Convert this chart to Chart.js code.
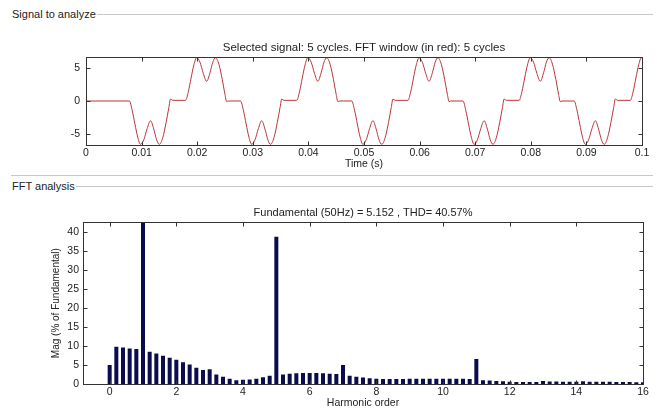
<!DOCTYPE html>
<html>
<head>
<meta charset="utf-8">
<script src="https://cdn.jsdelivr.net/npm/chart.js@4.4.1/dist/chart.umd.min.js"></script>
<style>
  body { margin: 0; background: #fff; width: 659px; height: 408px; overflow: hidden; position: relative; font-family: "Liberation Sans", Arial, sans-serif; }
  .group-title { position: absolute; left: 12px; right: 6px; height: 14px; display: flex; align-items: center; font-size: 11px; color: #222; white-space: nowrap; }
  .group-title::after { content: ""; flex: 1; border-top: 1px solid #c8c8c8; margin-left: 1px; }
  .sep { position: absolute; left: 11px; right: 6px; top: 175px; border-top: 1px solid #c8c8c8; }
  canvas { position: absolute; left: 0; }
</style>
</head>
<body>
<div class="group-title" style="top:7px">Signal to analyze</div>
<canvas id="signalChart" width="659" height="146" style="top:28px"></canvas>
<div class="sep"></div>
<div class="group-title" style="top:179px">FFT analysis</div>
<canvas id="fftChart" width="659" height="216" style="top:195px"></canvas>
<script>
// Signal to analyze: time in ms, amplitude
const timeMs = [
  0,
  7.8, 8.3, 8.8, 9.3, 9.8, 10.4, 11.0, 11.6, 12.2, 12.7, 13.2, 13.8, 14.4, 14.9, 15.2, 15.6,
  17.9, 18.4, 18.9, 19.4, 19.9, 20.5, 21.1, 21.7, 22.3, 22.8, 23.3, 23.9, 24.5, 25.0, 25.3, 25.6,
  27.8, 28.3, 28.8, 29.3, 29.8, 30.4, 31.0, 31.6, 32.2, 32.7, 33.2, 33.8, 34.4, 34.9, 35.2, 35.6,
  37.9, 38.4, 38.9, 39.4, 39.9, 40.5, 41.1, 41.7, 42.3, 42.8, 43.3, 43.9, 44.5, 45.0, 45.3, 45.6,
  47.8, 48.3, 48.8, 49.3, 49.8, 50.4, 51.0, 51.6, 52.2, 52.7, 53.2, 53.8, 54.4, 54.9, 55.2, 55.6,
  57.9, 58.4, 58.9, 59.4, 59.9, 60.5, 61.1, 61.7, 62.3, 62.8, 63.3, 63.9, 64.5, 65.0, 65.3, 65.6,
  67.8, 68.3, 68.8, 69.3, 69.8, 70.4, 71.0, 71.6, 72.2, 72.7, 73.2, 73.8, 74.4, 74.9, 75.2, 75.6,
  77.9, 78.4, 78.9, 79.4, 79.9, 80.5, 81.1, 81.7, 82.3, 82.8, 83.3, 83.9, 84.5, 85.0, 85.3, 85.6,
  87.8, 88.3, 88.8, 89.3, 89.8, 90.4, 91.0, 91.6, 92.2, 92.7, 93.2, 93.8, 94.4, 94.9, 95.2, 95.6,
  97.9, 98.4, 98.9, 99.4, 99.9, 100.0
];
const signal = [
  0,
  0, -1.4, -3.5, -5.5, -6.6, -5.9, -4.2, -3.0, -4.3, -5.9, -6.6, -5.6, -3.3, -1.0, 0.3, 0.1,
  0.1, 1.4, 3.5, 5.5, 6.6, 5.9, 4.2, 3.0, 4.3, 5.9, 6.6, 5.6, 3.3, 1.0, -0.1, 0,
  0, -1.4, -3.5, -5.5, -6.6, -5.9, -4.2, -3.0, -4.3, -5.9, -6.6, -5.6, -3.3, -1.0, 0.3, 0.1,
  0.1, 1.4, 3.5, 5.5, 6.6, 5.9, 4.2, 3.0, 4.3, 5.9, 6.6, 5.6, 3.3, 1.0, -0.1, 0,
  0, -1.4, -3.5, -5.5, -6.6, -5.9, -4.2, -3.0, -4.3, -5.9, -6.6, -5.6, -3.3, -1.0, 0.3, 0.1,
  0.1, 1.4, 3.5, 5.5, 6.6, 5.9, 4.2, 3.0, 4.3, 5.9, 6.6, 5.6, 3.3, 1.0, -0.1, 0,
  0, -1.4, -3.5, -5.5, -6.6, -5.9, -4.2, -3.0, -4.3, -5.9, -6.6, -5.6, -3.3, -1.0, 0.3, 0.1,
  0.1, 1.4, 3.5, 5.5, 6.6, 5.9, 4.2, 3.0, 4.3, 5.9, 6.6, 5.6, 3.3, 1.0, -0.1, 0,
  0, -1.4, -3.5, -5.5, -6.6, -5.9, -4.2, -3.0, -4.3, -5.9, -6.6, -5.6, -3.3, -1.0, 0.3, 0.1,
  0.1, 1.4, 3.5, 5.5, 6.6, 6.6
];
const timeTicks = [0, 0.01, 0.02, 0.03, 0.04, 0.05, 0.06, 0.07, 0.08, 0.09, 0.1];
const signalTicks = [-5, 0, 5];

// FFT analysis: harmonic order and magnitude (% of fundamental)
const harmonicOrder = [
  0, 0.2, 0.4, 0.6, 0.8, 1, 1.2, 1.4, 1.6, 1.8, 2, 2.2, 2.4, 2.6, 2.8,
  3, 3.2, 3.4, 3.6, 3.8, 4, 4.2, 4.4, 4.6, 4.8, 5, 5.2, 5.4, 5.6, 5.8,
  6, 6.2, 6.4, 6.6, 6.8, 7, 7.2, 7.4, 7.6, 7.8, 8, 8.2, 8.4, 8.6, 8.8,
  9, 9.2, 9.4, 9.6, 9.8, 10, 10.2, 10.4, 10.6, 10.8, 11, 11.2, 11.4, 11.6, 11.8,
  12, 12.2, 12.4, 12.6, 12.8, 13, 13.2, 13.4, 13.6, 13.8, 14, 14.2, 14.4, 14.6, 14.8,
  15, 15.2, 15.4, 15.6, 15.8, 16
];
const magnitude = [
  5.0, 9.8, 9.6, 9.3, 9.2, 100, 8.5, 8.0, 7.4, 6.9, 6.4, 5.7, 5.1, 4.3, 3.7,
  3.9, 2.5, 1.9, 1.4, 1.0, 1.1, 1.2, 1.4, 1.8, 2.2, 38.7, 2.5, 2.7, 2.8, 2.9,
  2.9, 2.9, 2.8, 2.7, 2.6, 5.0, 2.2, 1.9, 1.7, 1.5, 1.4, 1.3, 1.3, 1.3, 1.3,
  1.4, 1.4, 1.4, 1.4, 1.4, 1.4, 1.4, 1.4, 1.4, 1.3, 6.6, 1.0, 0.9, 0.8, 0.7,
  0.6, 0.55, 0.5, 0.5, 0.5, 0.8, 0.65, 0.65, 0.6, 0.6, 0.6, 0.7, 0.6, 0.6, 0.6,
  0.6, 0.55, 0.5, 0.5, 0.45, 0.45
];
const harmonicTicks = [0, 2, 4, 6, 8, 10, 12, 14, 16];
const magTicks = [0, 5, 10, 15, 20, 25, 30, 35, 40];

Chart.defaults.font.family = '"Liberation Sans", Arial, sans-serif';
Chart.defaults.font.size = 10.5;
Chart.defaults.color = '#222';

// MATLAB-style box around the axes with inward tick marks
const axesBox = {
  id: 'axesBox',
  afterDatasetsDraw(chart, args, opts) {
    const { ctx, chartArea: a, scales: { x, y } } = chart;
    const len = opts.tick || 4;
    const left = Math.round(a.left) + 0.5, right = Math.round(a.right) + 0.5;
    const top = Math.round(a.top) + 0.5, bottom = Math.round(a.bottom) + 0.5;
    ctx.save();
    ctx.strokeStyle = '#333';
    ctx.lineWidth = 1;
    ctx.beginPath();
    x.ticks.forEach(t => {
      const px = Math.round(x.getPixelForValue(t.value)) + 0.5;
      ctx.moveTo(px, bottom); ctx.lineTo(px, bottom - len);
      ctx.moveTo(px, top); ctx.lineTo(px, top + len);
    });
    y.ticks.forEach(t => {
      const py = Math.round(y.getPixelForValue(t.value)) + 0.5;
      ctx.moveTo(left, py); ctx.lineTo(left + len, py);
      ctx.moveTo(right, py); ctx.lineTo(right - len, py);
    });
    ctx.stroke();
    ctx.strokeRect(left, top, right - left, bottom - top);
    ctx.restore();
  }
};

const noGrid = { display: false, drawTicks: false };

new Chart(document.getElementById('signalChart'), {
  type: 'line',
  data: {
    datasets: [{
      data: timeMs.map((t, i) => ({ x: t / 1000, y: signal[i] })),
      borderColor: '#b8353a',
      borderWidth: 1,
      pointRadius: 0,
      cubicInterpolationMode: 'monotone'
    }]
  },
  options: {
    responsive: false,
    animation: false,
    layout: { padding: { left: 0, right: 17, top: 0, bottom: 0 } },
    plugins: {
      legend: { display: false },
      tooltip: { enabled: false },
      title: {
        display: true,
        fullSize: false,
        text: 'Selected signal: 5 cycles. FFT window (in red): 5 cycles',
        font: { size: 11.5, weight: 'normal' },
        color: '#222',
        padding: { top: 13, bottom: 2.2 }
      },
      axesBox: { tick: 4 }
    },
    scales: {
      x: {
        type: 'linear', min: 0, max: 0.1,
        afterBuildTicks: s => { s.ticks = timeTicks.map(v => ({ value: v })); },
        ticks: { padding: 2, maxRotation: 0, autoSkip: false, callback: v => String(v) },
        grid: noGrid, border: { display: false },
        title: { display: true, text: 'Time (s)', padding: { top: 0, bottom: 4 } },
        afterFit: s => { s.height = 29; }
      },
      y: {
        min: -6.7, max: 6.7,
        afterBuildTicks: s => { s.ticks = signalTicks.map(v => ({ value: v })); },
        ticks: { padding: 6, callback: v => String(v) },
        grid: noGrid, border: { display: false },
        afterFit: s => { s.width = 86; }
      }
    }
  },
  plugins: [axesBox]
});

new Chart(document.getElementById('fftChart'), {
  type: 'bar',
  data: {
    datasets: [{
      data: harmonicOrder.map((h, i) => ({ x: h, y: magnitude[i] })),
      backgroundColor: '#0b0c4e',
      borderWidth: 0,
      barPercentage: 0.6,
      categoryPercentage: 1
    }]
  },
  options: {
    responsive: false,
    animation: false,
    layout: { padding: { left: 0, right: 16, top: 0, bottom: 0 } },
    plugins: {
      legend: { display: false },
      tooltip: { enabled: false },
      title: {
        display: true,
        fullSize: false,
        text: 'Fundamental (50Hz) = 5.152 , THD= 40.57%',
        font: { size: 11, weight: 'normal' },
        color: '#222',
        padding: { top: 11.7, bottom: 2.4 }
      },
      axesBox: { tick: 4 }
    },
    scales: {
      x: {
        type: 'linear', min: -0.8, max: 16, offset: false,
        afterBuildTicks: s => { s.ticks = harmonicTicks.map(v => ({ value: v })); },
        ticks: { padding: 2, maxRotation: 0, autoSkip: false, callback: v => String(v) },
        grid: noGrid, border: { display: false },
        title: { display: true, text: 'Harmonic order', padding: { top: 0, bottom: 1.7 } },
        afterFit: s => { s.height = 27; }
      },
      y: {
        min: 0, max: 42.5,
        afterBuildTicks: s => { s.ticks = magTicks.map(v => ({ value: v })); },
        ticks: { padding: 4, callback: v => String(v) },
        grid: noGrid, border: { display: false },
        title: { display: true, text: 'Mag (% of Fundamental)', font: { size: 10 }, padding: { top: 50, bottom: 0 } },
        afterFit: s => { s.width = 83; }
      }
    }
  },
  plugins: [axesBox]
});
</script>
</body>
</html>
